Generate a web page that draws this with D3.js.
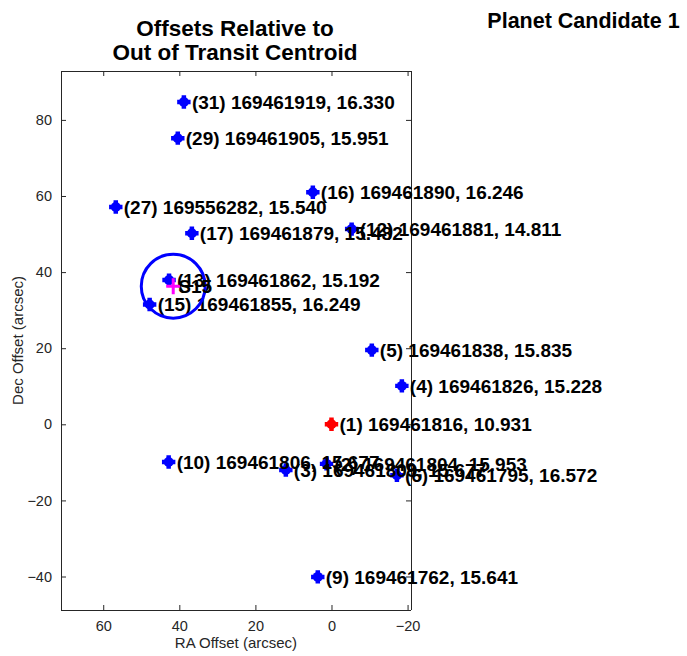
<!DOCTYPE html>
<html><head><meta charset="utf-8">
<script src="https://cdn.jsdelivr.net/npm/d3@7"></script>
<style>body{margin:0;background:#fff;} svg{display:block;}</style>
</head><body>
<script>
// ---- data ----
const ids    = [1, 2, 3, 4, 5, 6, 9, 10, 12, 13, 15, 16, 17, 27, 29, 31];
const tics   = ["169461816","169461804","169461809","169461826","169461838","169461795","169461762","169461806","169461881","169461862","169461855","169461890","169461879","169556282","169461905","169461919"];
const mags   = ["10.931","15.953","15.677","15.228","15.835","16.572","15.641","15.677","14.811","15.192","16.249","16.246","15.482","15.540","15.951","16.330"];
const raOff  = [0, 1.3, 12.0, -18.5, -10.6, -17.2, 3.6, 42.8, -5.3, 42.7, 47.8, 4.9, 36.7, 56.7, 40.4, 38.8];
const decOff = [0, -10.4, -12.0, 10.1, 19.5, -13.4, -40.1, -9.9, 51.3, 37.9, 31.5, 61.0, 50.2, 57.1, 75.2, 84.7];
const centroidRA = [41.6], centroidDec = [36.3], centroidR = [8.4], centroidLabel = ["S15"];
const xTicks = [60, 40, 20, 0, -20];
const yTicks = [-40, -20, 0, 20, 40, 60, 80];
const xDomain = [71.1, -20.9], yDomain = [-48.8, 92.85];

const W = 687, H = 656;
const L = 61, R = 411, T = 71, B = 610;
const svg = d3.select("body").append("svg").attr("width", W).attr("height", H);
const x = d3.scaleLinear().domain(xDomain).range([L, R]);
const y = d3.scaleLinear().domain(yDomain).range([B, T]);
const axCol = "#262626";
const tf = "'Liberation Sans', Arial, sans-serif";

// axes (box with inward ticks)
const gx = svg.append("g").attr("transform", `translate(0,${B})`)
  .call(d3.axisBottom(x).tickValues(xTicks).tickSize(-5).tickPadding(11).tickSizeOuter(0));
const gy = svg.append("g").attr("transform", `translate(${L},0)`)
  .call(d3.axisLeft(y).tickValues(yTicks).tickSize(-5).tickPadding(9).tickSizeOuter(0));
const gx2 = svg.append("g").attr("transform", `translate(0,${T})`)
  .call(d3.axisTop(x).tickValues(xTicks).tickSize(-5).tickFormat("").tickSizeOuter(0));
const gy2 = svg.append("g").attr("transform", `translate(${R},0)`)
  .call(d3.axisRight(y).tickValues(yTicks).tickSize(-5).tickFormat("").tickSizeOuter(0));
[gx, gy, gx2, gy2].forEach(g => {
  g.selectAll("path,line").attr("stroke", axCol).attr("stroke-width", 1);
  g.selectAll("text").attr("fill", axCol).style("font-family", tf).style("font-size", "14.5px");
});
gx.select(".domain").attr("d", `M${L},0.5H${R}`);
gx2.select(".domain").attr("d", `M${L},0.5H${R}`);
gy.select(".domain").attr("d", `M0.5,${T}V${B}`);
gy2.select(".domain").attr("d", `M0.5,${T}V${B}`);

// axis labels
svg.append("text").attr("x", (L + R) / 2).attr("y", 648).attr("text-anchor", "middle")
  .attr("fill", axCol).style("font-family", tf).style("font-size", "15px")
  .text("RA Offset (arcsec)");
svg.append("text").attr("transform", `translate(23,${(T + B) / 2}) rotate(-90)`).attr("text-anchor", "middle")
  .attr("fill", axCol).style("font-family", tf).style("font-size", "15px")
  .text("Dec Offset (arcsec)");

// titles
svg.append("text").attr("x", 235).attr("y", 36).attr("text-anchor", "middle").style("font-family", tf)
  .style("font-weight", "bold").style("font-size", "22.5px").text("Offsets Relative to");
svg.append("text").attr("x", 235).attr("y", 60).attr("text-anchor", "middle").style("font-family", tf)
  .style("font-weight", "bold").style("font-size", "22.5px").text("Out of Transit Centroid");
svg.append("text").attr("x", 583.5).attr("y", 27.5).attr("text-anchor", "middle").style("font-family", tf)
  .style("font-weight", "bold").style("font-size", "21.5px").text("Planet Candidate 1");

// markers and labels
const data = ids.map((id, i) => ({id, tic: tics[i], mag: mags[i], ra: raOff[i], dec: decOff[i]}));
const cross = d3.symbol().type(d3.symbolCross).size(100)();
const gm = svg.append("g");
data.forEach(d => {
  const col = d.id === 1 ? "#ff0000" : "#0000ff";
  const g = gm.append("g").attr("transform", `translate(${x(d.ra)},${y(d.dec)})`);
  g.append("path").attr("d", cross).attr("fill", col);
  g.append("circle").attr("r", 5).attr("fill", col);
});
data.forEach(d => {
  gm.append("text").attr("x", x(d.ra) + 8).attr("y", y(d.dec) + 6.8)
    .style("font-family", tf).style("font-weight", "bold").style("font-size", "19px")
    .attr("fill", "#000").text(`(${d.id}) ${d.tic}, ${d.mag}`);
});

// centroid circle + cross
centroidRA.forEach((ra, i) => {
  const cx = x(ra), cy = y(centroidDec[i]);
  const rpx = Math.abs(x(0) - x(centroidR[i]));
  svg.append("circle").attr("cx", cx).attr("cy", cy).attr("r", rpx)
    .attr("fill", "none").attr("stroke", "#0000ff").attr("stroke-width", 3);
  svg.append("path").attr("d", `M${cx - 7},${cy}H${cx + 7}M${cx},${cy - 8}V${cy + 8}`)
    .attr("stroke", "#ff00ff").attr("stroke-width", 3);
  svg.append("text").attr("x", cx + 5).attr("y", cy + 7)
    .style("font-family", tf).style("font-weight", "bold").style("font-size", "19px")
    .text(centroidLabel[i]);
});
</script>
</body></html>
